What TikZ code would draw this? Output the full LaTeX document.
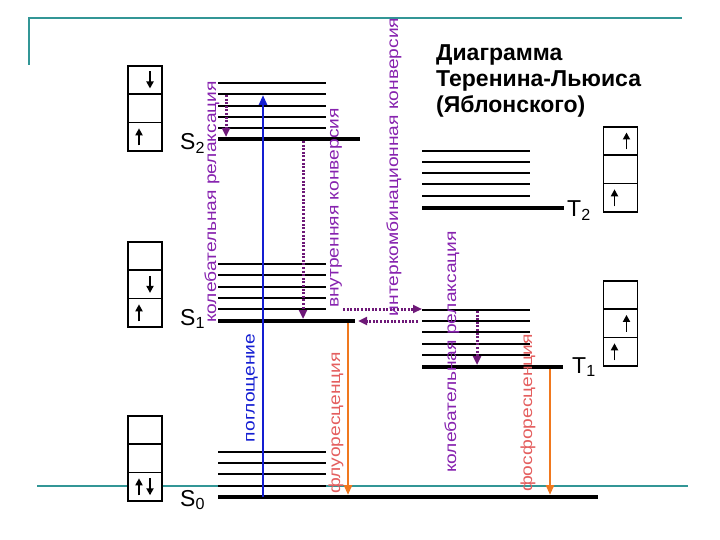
\documentclass[tikz,border=0pt]{standalone}
\usepackage{fontspec}
\setmainfont{Liberation Sans}
\newfontfamily\lblfont[FakeStretch=1.2]{Liberation Sans}
\usepackage{xcolor}
\usetikzlibrary{arrows.meta,positioning,calc}

\definecolor{frameteal}{RGB}{50,150,150}
\definecolor{vibtext}{RGB}{135,35,175}
\definecolor{vibarrow}{RGB}{110,25,120}
\definecolor{absblue}{RGB}{20,30,210}
\definecolor{emorange}{RGB}{240,120,30}
\definecolor{emtext}{RGB}{228,95,95}

\begin{document}
\begin{tikzpicture}[
    x=1pt, y=-1pt,
    level/.style={line width=2pt},
    ground/.style={line width=4.5pt},
    deco/.style={frameteal, line width=2.2pt},
    cell/.style={rectangle, draw, fill=white, line width=1.6pt, minimum width=34pt, minimum height=28.4pt, inner sep=0pt, outer sep=0pt},
    spin/.style={-{Triangle[length=7pt,width=7pt]}, line width=1.9pt},
    state/.style={anchor=base west, inner sep=0pt, font=\fontsize{23}{23}\selectfont},
    lbl/.style={rotate=90, inner sep=0pt, font=\lblfont\fontsize{16}{16}\selectfont},
    absarrow/.style={absblue, line width=2.6pt, -{Triangle[length=10pt,width=8pt]}},
    emarrow/.style={emorange, line width=2.6pt, -{Triangle[length=10pt,width=8pt]}},
    dotarrow/.style={vibarrow, line width=3pt, dash pattern=on 2pt off 1.6pt, -{Triangle[length=9pt,width=8pt]}}
]
\useasboundingbox (0,0) rectangle (720,540);

% frame lines
\draw[deco] (29,65) -- (29,18) -- (682,18);
\draw[deco] (37,486) -- (688,486);

% vibrational sublevels
\foreach \y in {83,94,106,117,128} \draw[level] (218,\y) -- (326,\y);
\foreach \y in {264,275,287,298,309} \draw[level] (218,\y) -- (326,\y);
\foreach \y in {452,463,474,486} \draw[level] (218,\y) -- (326,\y);
\foreach \y in {151,162,173,184,196} \draw[level] (422,\y) -- (530,\y);
\foreach \y in {310,321,332,344,355} \draw[level] (422,\y) -- (530,\y);

% main levels
\draw[ground] (218,139) -- (360,139);
\draw[ground] (218,321) -- (355,321);
\draw[ground] (218,497) -- (598,497);
\draw[ground] (422,208) -- (564,208);
\draw[ground] (422,367) -- (563,367);

\node[state] (s2) at (180,150) {S\textsubscript{2}};
\node[state] (s1) at (180,325) {S\textsubscript{1}};
\node[state] (s0) at (180,506) {S\textsubscript{0}};
\node[state] (t2) at (567,217) {T\textsubscript{2}};
\node[state] (t1) at (572,373) {T\textsubscript{1}};

% spin boxes
\node[cell] (s2a) at (145,80) {};
\node[cell, below=0pt of s2a] (s2b) {};
\node[cell, below=0pt of s2b] (s2c) {};
\node[cell] (s1a) at (145,256) {};
\node[cell, below=0pt of s1a] (s1b) {};
\node[cell, below=0pt of s1b] (s1c) {};
\node[cell] (s0a) at (145,430) {};
\node[cell, below=0pt of s0a] (s0b) {};
\node[cell, below=0pt of s0b] (s0c) {};
\node[cell] (t2a) at (620.5,141) {};
\node[cell, below=0pt of t2a] (t2b) {};
\node[cell, below=0pt of t2b] (t2c) {};
\node[cell] (t1a) at (620.5,295) {};
\node[cell, below=0pt of t1a] (t1b) {};
\node[cell, below=0pt of t1b] (t1c) {};

\draw[spin] ([xshift=5pt,yshift=8.5pt]s2a.center) -- ([xshift=5pt,yshift=-8.5pt]s2a.center);
\draw[spin] ([xshift=-6pt,yshift=-8.5pt]s2c.center) -- ([xshift=-6pt,yshift=8.5pt]s2c.center);
\draw[spin] ([xshift=5pt,yshift=8.5pt]s1b.center) -- ([xshift=5pt,yshift=-8.5pt]s1b.center);
\draw[spin] ([xshift=-6pt,yshift=-8.5pt]s1c.center) -- ([xshift=-6pt,yshift=8.5pt]s1c.center);
\draw[spin] ([xshift=-6pt,yshift=-8.5pt]s0c.center) -- ([xshift=-6pt,yshift=8.5pt]s0c.center);
\draw[spin] ([xshift=5pt,yshift=8.5pt]s0c.center) -- ([xshift=5pt,yshift=-8.5pt]s0c.center);
\draw[spin] ([xshift=6pt,yshift=-8.5pt]t2a.center) -- ([xshift=6pt,yshift=8.5pt]t2a.center);
\draw[spin] ([xshift=-6pt,yshift=-8.5pt]t2c.center) -- ([xshift=-6pt,yshift=8.5pt]t2c.center);
\draw[spin] ([xshift=6pt,yshift=-8.5pt]t1b.center) -- ([xshift=6pt,yshift=8.5pt]t1b.center);
\draw[spin] ([xshift=-6pt,yshift=-8.5pt]t1c.center) -- ([xshift=-6pt,yshift=8.5pt]t1c.center);

% transition end points
\coordinate (absS0) at (263,497);
\coordinate (absS2) at (263,95);
\coordinate (vrS2a) at (226,95);
\coordinate (vrS2b) at (226,137);
\coordinate (icS2) at (303,141);
\coordinate (icS1) at (303,319);
\coordinate (iscS1) at (343,309);
\coordinate (iscT1) at (422,309);
\coordinate (iscT1b) at (418,321);
\coordinate (iscS1b) at (358,321);
\coordinate (vrT1a) at (477,311);
\coordinate (vrT1b) at (477,365);
\coordinate (flS1) at (348,323);
\coordinate (flS0) at (348,495);
\coordinate (phT1) at (550,369);
\coordinate (phS0) at (550,495);

\draw[absarrow] (absS0) -- (absS2);
\draw[dotarrow] (vrS2a) -- (vrS2b);
\draw[dotarrow] (icS2) -- (icS1);
\draw[dotarrow] (iscS1) -- (iscT1);
\draw[dotarrow] (iscT1b) -- (iscS1b);
\draw[dotarrow] (vrT1a) -- (vrT1b);
\draw[emarrow] (flS1) -- (flS0);
\draw[emarrow] (phT1) -- (phS0);

% labels
\node[lbl, vibtext] (lblvrS2) at (212,202) {колебательная релаксация};
\node[lbl, absblue] (lblabs) at (252,388) {поглощение};
\node[lbl, vibtext] (lblic) at (336,208) {внутренняя конверсия};
\node[lbl, vibtext] (lblisc) at (394,167) {интеркомбинационная конверсия};
\node[lbl, emtext] (lblfl) at (336,423) {флуоресценция};
\node[lbl, vibtext] (lblvrT1) at (452,352) {колебательная релаксация};
\node[lbl, emtext] (lblph) at (528,413) {фосфоресценция};

\node[anchor=north west, inner sep=0pt, align=left, font=\bfseries\fontsize{23}{26}\selectfont] (title) at (436,44) {Диаграмма\\Теренина-Льюиса\\(Яблонского)};

\end{tikzpicture}
\end{document}
